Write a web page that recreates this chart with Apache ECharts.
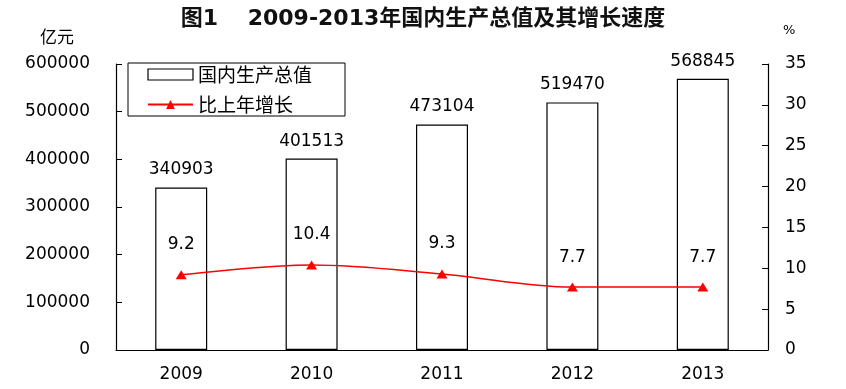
<!DOCTYPE html>
<html><head><meta charset="utf-8">
<script src="https://cdn.jsdelivr.net/npm/echarts@6/dist/echarts.min.js"></script>
<style>html,body{margin:0;padding:0;background:#fff}#c{width:846px;height:389px}</style>
</head><body><div id="c"></div>
<script>
const years = ['2009', '2010', '2011', '2012', '2013'];
const gdp = [340903, 401513, 473104, 519470, 568845];
const growth = [9.2, 10.4, 9.3, 7.7, 7.7];
const seriesNames = ['国内生产总值', '比上年增长'];
const titleText = '图1\u3000 2009-2013年国内生产总值及其增长速度';
const leftUnit = '亿元';
const rightUnit = '%';

const FONT = '"DejaVu Sans", "Noto Sans CJK SC", sans-serif';
const chart = echarts.init(document.getElementById('c'));
chart.setOption({
  animation: false,
  backgroundColor: '#fff',
  textStyle: { fontFamily: FONT, color: '#000' },
  title: {
    text: titleText, left: 'center', top: 3,
    textStyle: { fontFamily: FONT, fontSize: 22, fontWeight: 'bold', color: '#111' }
  },
  graphic: [
    { type: 'text', left: 40, top: 28, style: { text: leftUnit, font: '17px "Noto Sans CJK SC"', fill: '#000' } },
    { type: 'text', left: 783, top: 24, style: { text: rightUnit, font: '13px "DejaVu Sans"', fill: '#000' } }
  ],
  legend: {
    orient: 'vertical', left: 128, top: 63,
    borderColor: '#000', borderWidth: 1,
    padding: [2, 33, 2, 19], itemGap: 11,
    itemWidth: 45, itemHeight: 11,
    textStyle: { fontFamily: '"Noto Sans CJK SC"', fontSize: 19, color: '#000' },
    data: [
      { name: seriesNames[0], icon: 'rect', itemStyle: { color: '#fff', borderColor: '#000', borderWidth: 1.2 } },
      { name: seriesNames[1] }
    ]
  },
  grid: { left: 116, right: 78, top: 64, bottom: 39, containLabel: false },
  xAxis: {
    type: 'category', data: years, boundaryGap: true,
    axisLine: { lineStyle: { color: '#000', width: 1.2 } },
    axisTick: { inside: true, length: 6, alignWithLabel: false, lineStyle: { color: '#000' } },
    axisLabel: { fontSize: 17, color: '#000', margin: 16, fontFamily: FONT }
  },
  yAxis: [
    {
      type: 'value', min: 0, max: 600000, interval: 100000, position: 'left',
      axisLine: { show: true, lineStyle: { color: '#000', width: 1.2 } },
      axisTick: { show: true, inside: true, length: 6, lineStyle: { color: '#000' } },
      axisLabel: { fontSize: 17, color: '#000', margin: 26, fontFamily: FONT, formatter: v => String(v) },
      splitLine: { show: false }
    },
    {
      type: 'value', min: 0, max: 35, interval: 5, position: 'right',
      axisLine: { show: true, lineStyle: { color: '#000', width: 1.2 } },
      axisTick: { show: true, inside: true, length: 6, lineStyle: { color: '#000' } },
      axisLabel: { fontSize: 17, color: '#000', margin: 17, fontFamily: FONT },
      splitLine: { show: false }
    }
  ],
  series: [
    {
      name: seriesNames[0], type: 'bar', data: gdp, yAxisIndex: 0, barWidth: 52,
      itemStyle: { color: '#fff', borderColor: '#000', borderWidth: 1.2 },
      label: { show: true, position: 'top', distance: 9, fontSize: 17, color: '#000', fontFamily: FONT }
    },
    {
      name: seriesNames[1], type: 'line', data: growth, yAxisIndex: 1, smooth: 0.35,
      symbol: 'triangle', symbolSize: [11, 9],
      lineStyle: { color: '#f00', width: 1.5 },
      itemStyle: { color: '#f00' },
      label: { show: true, position: 'top', distance: 17, fontSize: 17, color: '#000', fontFamily: FONT },
      z: 5
    }
  ]
});
</script></body></html>
